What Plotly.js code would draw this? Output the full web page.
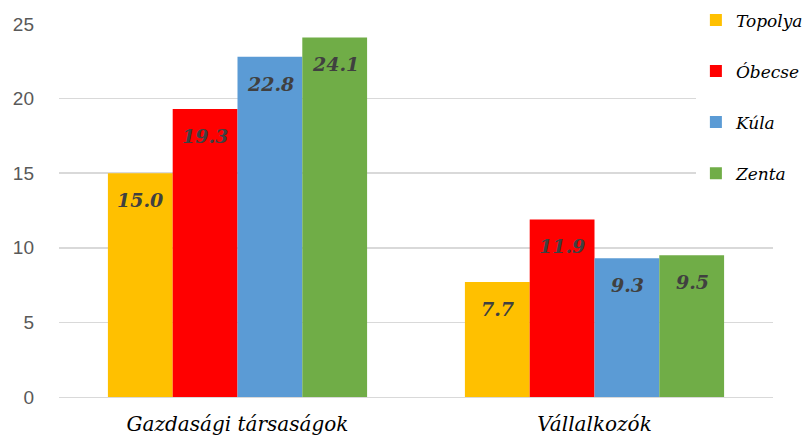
<!DOCTYPE html>
<html>
<head>
<meta charset="utf-8">
<script src="https://cdn.plot.ly/plotly-3.0.1.min.js"></script>
<style>
  html, body { margin: 0; padding: 0; background: #fff; }
  #chart { width: 803px; height: 438px; }
</style>
</head>
<body>
<div id="chart"></div>
<script>
const categories = ["Gazdasági társaságok", "Vállalkozók"];
const seriesNames = ["Topolya", "Óbecse", "Kúla", "Zenta"];
const topolya = [15.0, 7.7];
const obecse = [19.3, 11.9];
const kula = [22.8, 9.3];
const zenta = [24.1, 9.5];
const yTicks = [0, 5, 10, 15, 20, 25];

const colors = ["#FFC000", "#FF0000", "#5B9BD5", "#70AD47"];
const allValues = [topolya, obecse, kula, zenta];

const serif = "DejaVu Serif";

const traces = allValues.map((vals, i) => ({
  type: "bar",
  name: "<i>" + seriesNames[i] + "</i>",
  x: categories,
  y: vals,
  marker: { color: colors[i] },
  legendgroup: "g" + i,
  hoverinfo: "skip"
}));

// data labels, a bit below the bar top like in the original
const barPx = 65;
const annotations = [];
allValues.forEach((vals, i) => {
  vals.forEach((v, j) => {
    annotations.push({
      x: categories[j], y: v, xref: "x", yref: "y",
      text: "<b><i>" + v.toFixed(1) + "</i></b>",
      showarrow: false,
      xshift: (i - 1.5) * barPx,
      yshift: -27,
      font: { family: serif, size: 19, color: "#404040" }
    });
  });
});

const layout = {
  width: 803, height: 438,
  margin: { l: 59, r: 30, t: 24, b: 41, autoexpand: false },
  paper_bgcolor: "#fff", plot_bgcolor: "#fff",
  barmode: "group",
  bargap: 0.274,
  bargroupgap: 0,
  showlegend: true,
  legend: {
    x: 0.892, xanchor: "left", y: 1.058, yanchor: "top",
    bgcolor: "#fff",
    tracegroupgap: 26,
    font: { family: serif, size: 17, color: "#000" },
    itemclick: false
  },
  xaxis: {
    type: "category",
    tickvals: categories,
    ticktext: categories.map(c => "<i>" + c + "</i>"),
    tickfont: { family: serif, size: 20, color: "#000" },
    ticks: "", showline: true, linecolor: "#d9d9d9", linewidth: 1,
    showgrid: false, fixedrange: true,
    ticklabelstandoff: 9
  },
  yaxis: {
    range: [0, 25],
    tickvals: yTicks,
    ticktext: yTicks.map(String),
    tickfont: { family: "Liberation Sans, Arial, sans-serif", size: 19, color: "#595959" },
    showgrid: true, gridcolor: "#d9d9d9", gridwidth: 1.5,
    zeroline: false, showline: false, ticks: "",
    ticklabelstandoff: 24,
    fixedrange: true
  },
  annotations: annotations
};

Plotly.newPlot("chart", traces, layout, { displayModeBar: false, staticPlot: true });
</script>
</body>
</html>
